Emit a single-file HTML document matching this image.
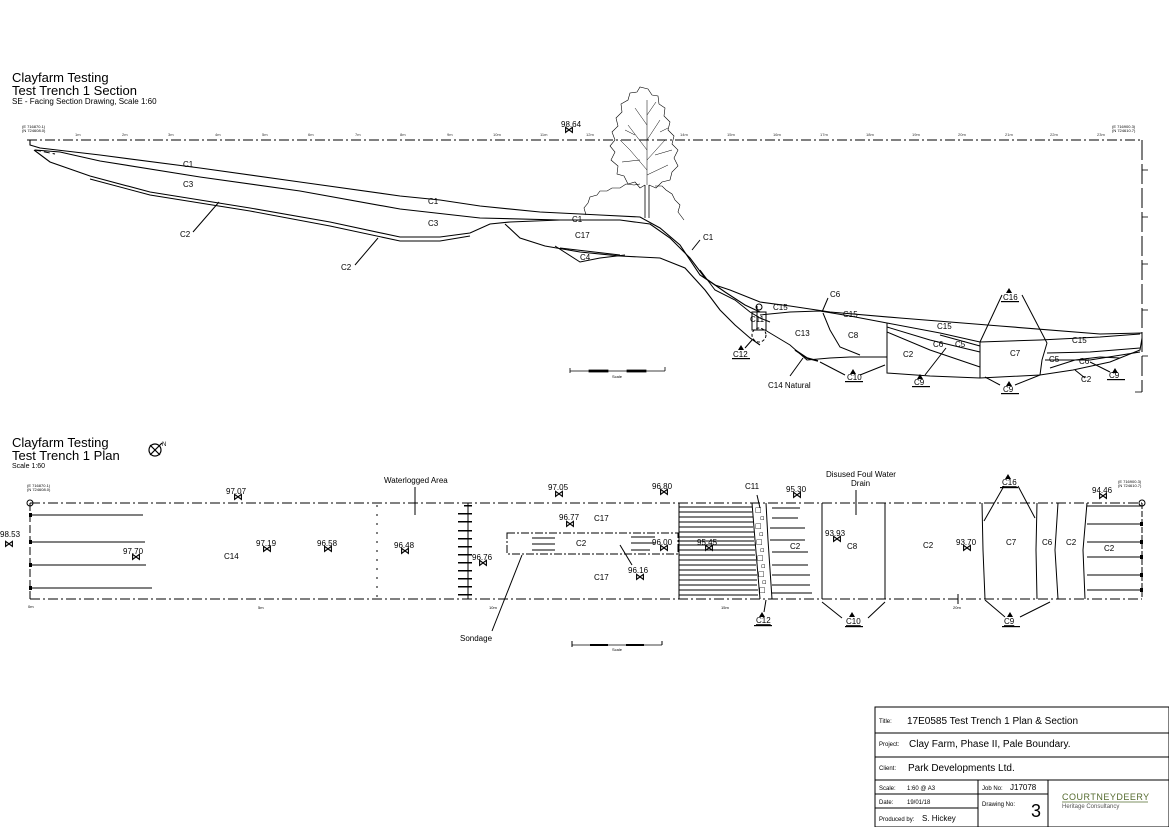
<!DOCTYPE html>
<html><head><meta charset="utf-8"><style>
html,body{margin:0;padding:0;background:#fff;}
svg{display:block;font-family:"Liberation Sans",Arial,sans-serif;}
</style></head><body>
<svg width="1169" height="827" viewBox="0 0 1169 827" xmlns="http://www.w3.org/2000/svg">
<rect width="1169" height="827" fill="#fff"/>
<!-- Section titles -->
<text x="12" y="82" font-size="13">Clayfarm Testing</text>
<text x="12" y="95" font-size="13">Test Trench 1 Section</text>
<text x="12" y="104" font-size="8">SE - Facing Section Drawing, Scale 1:60</text>

<g stroke="#000" fill="none" stroke-width="1">
<!-- datum -->
<line x1="27" y1="140" x2="1142" y2="140" stroke-dasharray="10,3,2,3"/>
<line x1="1142" y1="140" x2="1142" y2="392" stroke-dasharray="20,4"/>
<g stroke-width="0.8">
<line x1="1142" y1="170" x2="1148" y2="170"/><line x1="1142" y1="217" x2="1148" y2="217"/>
<line x1="1142" y1="264" x2="1148" y2="264"/><line x1="1142" y1="310" x2="1148" y2="310"/>
<line x1="1142" y1="356" x2="1148" y2="356"/><line x1="1135" y1="392" x2="1142" y2="392"/>
</g>
<!-- ground / C1 top -->
<polyline stroke-width="1.1" points="30,140 30,145 40,148 100,155 200,168 300,182 400,196 440,200 480,206 540,212 600,215 640,217 660,228 680,245 700,275 715,285 730,290 760,302 790,306 830,312 900,318 1000,326 1100,334 1142,333"/>
<!-- C1/C3 -->
<polyline stroke-width="1.1" points="35,150 60,152 100,161 200,177 300,191 400,209 480,218 560,220 620,220 650,224 670,238 690,258 705,278 725,292 745,305 760,312"/>
<polyline stroke-dasharray="6,3" points="35,150 55,154"/>
<!-- C3/C2 -->
<polyline stroke-width="1.1" points="34,150 50,162 90,176 150,192 250,208 330,222 400,237 440,237 470,233 490,224 510,222 560,220"/>
<polyline points="90,179 150,195 250,211 330,226 400,241 440,241 470,236"/>
<!-- C17 lower -->
<polyline stroke-width="1.1" points="505,224 520,238 545,246 580,252 620,256 660,258 685,268 705,290 720,310 735,325 750,338 760,345"/>
<polyline points="555,246 580,262 600,258 625,255"/>
<polyline points="560,248 620,255"/>
<!-- trench lower lines -->
<polyline points="700,270 715,290 735,300 750,312 760,318 770,322"/>
<polyline points="757,306 757,330"/>
<!-- C15 layers -->
<polyline points="760,315 790,312 820,311 850,316 887,323 940,333 980,342 1040,340 1100,337 1140,334"/>
<polyline points="887,327 930,340 980,352"/>
<polyline points="887,332 930,350 980,367"/>
<polyline points="940,335 980,346"/>
<!-- natural / bottom -->
<polyline points="765,330 790,345 807,360 830,358 850,357 887,357"/>
<polyline stroke-width="1.6" points="795,350 807,358 818,361"/>
<polyline points="887,350 887,373 930,376 980,378 1040,375 1073,370 1110,362 1140,350 1142,338"/>
<line x1="887" y1="323" x2="887" y2="357"/>
<polyline points="823,313 830,330 840,347 860,355"/>
<polyline points="980,342 980,378"/>
<polyline points="1047,343 1042,360 1040,375"/>
<polyline points="1047,353 1090,352 1140,348"/>
<polyline points="1050,368 1075,360 1100,357 1120,358"/>
<polyline points="1045,360 1090,360 1140,352"/>
<!-- C11 / C12 feature -->
<rect x="752" y="312" width="14" height="18"/>
<ellipse cx="759" cy="335" rx="7" ry="7" stroke-dasharray="3,2"/>
<circle cx="759" cy="307" r="3"/>
<!-- leader lines -->
<line x1="193" y1="232" x2="219" y2="202"/>
<line x1="355" y1="265" x2="378" y2="238"/>
<line x1="700" y1="240" x2="692" y2="250"/>
<line x1="828" y1="298" x2="822" y2="312"/>
<line x1="790" y1="376" x2="803" y2="358"/>
<line x1="845" y1="375" x2="820" y2="362"/>
<line x1="860" y1="375" x2="885" y2="365"/>
<line x1="925" y1="375" x2="946" y2="348"/>
<line x1="1002" y1="295" x2="980" y2="342"/>
<line x1="1022" y1="295" x2="1047" y2="343"/>
<line x1="1000" y1="385" x2="985" y2="377"/>
<line x1="1015" y1="385" x2="1040" y2="375"/>
<line x1="1085" y1="378" x2="1075" y2="370"/>
<line x1="1110" y1="372" x2="1090" y2="362"/>
<line x1="745" y1="348" x2="752" y2="340"/>
<!-- tree -->
<path d="M645,218 L645,185 M649,218 L649,185" stroke-width="0.8"/>
<path stroke-width="0.6" d="M645,185 L640,188 L635,182 L628,184 L624,176 L617,174 L618,166 L611,160 L615,152 L610,146 L615,140 L612,132 L618,126 L616,118 L622,112 L621,104 L628,100 L630,93 L637,92 L640,87 L648,89 L652,95 L658,96 L659,104 L665,108 L664,116 L670,122 L668,130 L674,136 L672,144 L678,150 L674,158 L678,166 L672,172 L670,180 L662,182 L656,188 L649,185"/>
<path stroke-width="0.5" d="M647,185 L647,100 M647,170 L630,150 L620,140 M647,160 L665,140 M647,150 L628,125 M647,140 L660,120 M647,125 L635,108 M647,115 L656,102 M647,175 L668,165 M640,160 L622,162 M655,155 L672,150 M635,135 L625,130 M660,132 L668,128"/>
<path stroke-width="0.6" d="M586,215 L584,208 L588,203 L590,197 L597,195 L600,191 L607,191 L612,188 L620,188 L626,184 L634,185 L640,184 M655,186 L662,186 L666,190 L672,194 L675,200 L680,205 L678,212 L684,220"/>
</g>
<!-- section labels -->
<g font-size="8">
<text x="183" y="167">C1</text><text x="183" y="187">C3</text><text x="180" y="237">C2</text>
<text x="428" y="204">C1</text><text x="428" y="226">C3</text><text x="341" y="270">C2</text>
<text x="572" y="222">C1</text><text x="575" y="238">C17</text><text x="580" y="260">C4</text>
<text x="703" y="240">C1</text><text x="773" y="310">C15</text><text x="830" y="297">C6</text>
<text x="843" y="317">C15</text><text x="795" y="336">C13</text><text x="848" y="338">C8</text>
<text x="937" y="329">C15</text><text x="903" y="357">C2</text><text x="933" y="347">C6</text>
<text x="955" y="347">C5</text><text x="1010" y="356">C7</text><text x="1072" y="343">C15</text>
<text x="1049" y="362">C5</text><text x="1079" y="364">C6</text><text x="1081" y="382">C2</text>
<text x="750" y="322">C11</text><text x="768" y="388">C14 Natural</text>
<text x="561" y="127">98.64</text>
</g>
<g font-size="8" text-decoration="underline">
<text x="733" y="357">C12</text><text x="847" y="380">C10</text><text x="914" y="385">C9</text>
<text x="1003" y="300">C16</text><text x="1003" y="392">C9</text><text x="1109" y="378">C9</text>
</g>
<g fill="#000">
<path d="M738,350 l3,-5 l3,5z M850,374 l3,-5 l3,5z M917,379 l3,-5 l3,5z M1006,293 l3,-5 l3,5z M1006,386 l3,-5 l3,5z M1112,373 l3,-5 l3,5z"/>
<rect x="732" y="358" width="18" height="1.2"/><rect x="845" y="381" width="18" height="1.2"/><rect x="912" y="386" width="18" height="1.2"/><rect x="1001" y="301" width="18" height="1.2"/><rect x="1001" y="393" width="18" height="1.2"/><rect x="1107" y="379" width="18" height="1.2"/>
</g>
<!-- section scale bar -->
<g stroke="#000" stroke-width="0.8" fill="none">
<line x1="570" y1="371" x2="665" y2="371"/><line x1="570" y1="368" x2="570" y2="373"/><line x1="665" y1="367" x2="665" y2="371"/>
<rect x="589" y="370" width="19" height="2" fill="#000"/><rect x="627" y="370" width="19" height="2" fill="#000"/>
</g>
<text x="612" y="378" font-size="4">Scale</text>
<g font-size="4"><text x="22" y="128">(E 716870.1)</text><text x="22" y="132">(N 724608.0)</text><text x="1112" y="128">(E 716900.3)</text><text x="1112" y="132">(N 724610.7)</text></g>
<g font-size="4" fill="#333">
<text x="75" y="136">1m</text><text x="122" y="136">2m</text><text x="168" y="136">3m</text><text x="215" y="136">4m</text><text x="262" y="136">5m</text><text x="308" y="136">6m</text><text x="355" y="136">7m</text><text x="400" y="136">8m</text><text x="447" y="136">9m</text><text x="493" y="136">10m</text><text x="540" y="136">11m</text><text x="586" y="136">12m</text><text x="680" y="136">14m</text><text x="727" y="136">15m</text><text x="773" y="136">16m</text><text x="820" y="136">17m</text><text x="866" y="136">18m</text><text x="912" y="136">19m</text><text x="958" y="136">20m</text><text x="1005" y="136">21m</text><text x="1050" y="136">22m</text><text x="1097" y="136">23m</text>
</g>

<!-- PLAN -->
<text x="12" y="447" font-size="13">Clayfarm Testing</text>
<text x="12" y="460" font-size="13">Test Trench 1 Plan</text>
<text x="12" y="468" font-size="7">Scale 1:60</text>
<g stroke="#000" fill="none" stroke-width="1.2"><circle cx="155" cy="450" r="6"/><line x1="150" y1="455" x2="162" y2="443"/><line x1="150" y1="445" x2="160" y2="455"/></g>
<text x="162" y="446" font-size="6">N</text>

<g stroke="#000" fill="none" stroke-width="1">
<line x1="30" y1="503" x2="1142" y2="503" stroke-dasharray="10,3,2,3"/>
<line x1="30" y1="599" x2="1142" y2="599" stroke-dasharray="10,3,2,3"/>
<line x1="30" y1="503" x2="30" y2="599" stroke-dasharray="8,3"/>
<circle cx="30" cy="503" r="3"/><circle cx="1142" cy="503" r="3"/>
<line x1="30" y1="515" x2="143" y2="515"/><line x1="30" y1="542" x2="145" y2="542"/>
<line x1="30" y1="565" x2="146" y2="565"/><line x1="31" y1="588" x2="152" y2="588"/>
<line x1="377" y1="505" x2="377" y2="598" stroke-dasharray="2,7"/>
<line x1="415" y1="487" x2="415" y2="515"/>
<line x1="468" y1="503" x2="468" y2="599"/>
<!-- sondage -->
<rect x="507" y="533" width="171" height="21" stroke-dasharray="8,2,2,2"/>
<line x1="532" y1="538" x2="555" y2="538"/><line x1="532" y1="544" x2="555" y2="544"/><line x1="532" y1="550" x2="555" y2="550"/>
<line x1="631" y1="537" x2="655" y2="537"/><line x1="631" y1="543" x2="655" y2="543"/><line x1="631" y1="550" x2="650" y2="550"/>
<line x1="492" y1="631" x2="522" y2="555"/>
<line x1="620" y1="545" x2="632" y2="565"/>
<!-- hatch block -->
<line x1="679" y1="503" x2="679" y2="599"/>
<line x1="679" y1="507" x2="752" y2="507"/><line x1="679" y1="512" x2="752" y2="512"/><line x1="679" y1="517" x2="753" y2="517"/>
<line x1="679" y1="522" x2="753" y2="522"/><line x1="679" y1="527" x2="753" y2="527"/><line x1="679" y1="532" x2="754" y2="532"/>
<line x1="679" y1="537" x2="754" y2="537"/><line x1="679" y1="541" x2="754" y2="541"/><line x1="679" y1="545" x2="755" y2="545"/>
<line x1="679" y1="550" x2="755" y2="550"/><line x1="679" y1="555" x2="755" y2="555"/><line x1="679" y1="560" x2="756" y2="560"/>
<line x1="679" y1="565" x2="756" y2="565"/><line x1="679" y1="570" x2="756" y2="570"/><line x1="679" y1="575" x2="757" y2="575"/>
<line x1="679" y1="580" x2="757" y2="580"/><line x1="679" y1="585" x2="757" y2="585"/><line x1="679" y1="590" x2="758" y2="590"/>
<line x1="679" y1="595" x2="758" y2="595"/>
<!-- stone column -->
<polyline points="752,503 755,540 760,599"/><polyline points="766,503 768,540 772,599"/>
<line x1="772" y1="508" x2="800" y2="508"/><line x1="772" y1="518" x2="798" y2="518"/><line x1="770" y1="528" x2="805" y2="528"/>
<line x1="770" y1="540" x2="805" y2="540"/><line x1="772" y1="552" x2="808" y2="552"/><line x1="772" y1="565" x2="808" y2="565"/>
<line x1="772" y1="575" x2="810" y2="575"/><line x1="772" y1="585" x2="810" y2="585"/><line x1="772" y1="593" x2="812" y2="593"/>
<line x1="757" y1="495" x2="760" y2="508"/><line x1="766" y1="600" x2="764" y2="612"/>
<!-- C8 drain -->
<line x1="822" y1="503" x2="822" y2="599"/><line x1="885" y1="503" x2="885" y2="599"/>
<line x1="856" y1="490" x2="856" y2="515"/>
<line x1="822" y1="602" x2="842" y2="618"/><line x1="868" y1="618" x2="885" y2="602"/>
<!-- right -->
<polyline points="982,503 983,550 985,599"/><polyline points="1037,503 1036,550 1037,599"/>
<polyline points="1058,503 1055,550 1058,599"/><polyline points="1087,503 1083,550 1085,599"/>
<line x1="1004" y1="486" x2="984" y2="521"/><line x1="1018" y1="486" x2="1035" y2="518"/>
<line x1="985" y1="600" x2="1005" y2="617"/><line x1="1020" y1="617" x2="1050" y2="602"/>
<line x1="1087" y1="506" x2="1142" y2="506"/><line x1="1087" y1="524" x2="1142" y2="524"/><line x1="1087" y1="542" x2="1142" y2="542"/>
<line x1="1087" y1="557" x2="1142" y2="557"/><line x1="1087" y1="575" x2="1142" y2="575"/><line x1="1087" y1="590" x2="1142" y2="590"/>
<line x1="1142" y1="503" x2="1142" y2="599" stroke-dasharray="6,2"/>
<line x1="958" y1="594" x2="958" y2="604"/>
<!-- plan scale bar -->
<line x1="572" y1="645" x2="662" y2="645" stroke-width="0.8"/><line x1="572" y1="641" x2="572" y2="647"/><line x1="662" y1="641" x2="662" y2="645"/>
</g>
<g fill="#000">
<rect x="590" y="644" width="18" height="2"/><rect x="626" y="644" width="18" height="2"/>
<rect x="29" y="513" width="3" height="4"/><rect x="29" y="540" width="3" height="4"/><rect x="29" y="563" width="3" height="4"/><rect x="29" y="586" width="3" height="4"/>
<rect x="1140" y="522" width="3" height="4"/><rect x="1140" y="540" width="3" height="4"/><rect x="1140" y="555" width="3" height="4"/><rect x="1140" y="573" width="3" height="4"/><rect x="1140" y="588" width="3" height="4"/>
<g>
<rect x="464" y="505" width="8" height="1.5"/><rect x="458" y="513" width="14" height="1.5"/><rect x="458" y="521" width="14" height="1.5"/><rect x="458" y="530" width="14" height="1.5"/><rect x="458" y="538" width="14" height="1.5"/><rect x="458" y="546" width="14" height="1.5"/><rect x="458" y="554" width="14" height="1.5"/><rect x="458" y="562" width="14" height="1.5"/><rect x="458" y="570" width="14" height="1.5"/><rect x="458" y="578" width="14" height="1.5"/><rect x="458" y="586" width="14" height="1.5"/><rect x="458" y="594" width="14" height="1.5"/>
</g>
<g font-size="7" font-family="DejaVu Sans">
<text x="755" y="512">□</text><text x="760" y="520">▫</text><text x="755" y="528">□</text><text x="759" y="536">▫</text><text x="756" y="544">□</text><text x="760" y="552">▫</text><text x="757" y="560">□</text><text x="761" y="568">▫</text><text x="758" y="576">□</text><text x="762" y="584">▫</text><text x="759" y="592">□</text>
</g>
</g>
<g font-size="8">
<text x="384" y="483">Waterlogged Area</text>
<text x="226" y="494">97.07</text><text x="0" y="537">98.53</text><text x="123" y="554">97.70</text>
<text x="224" y="559">C14</text><text x="256" y="546">97.19</text><text x="317" y="546">96.58</text>
<text x="394" y="548">96.48</text><text x="472" y="560">96.76</text><text x="548" y="490">97.05</text>
<text x="559" y="520">96.77</text><text x="594" y="521">C17</text><text x="576" y="546">C2</text>
<text x="594" y="580">C17</text><text x="652" y="489">96.80</text><text x="652" y="545">96.00</text>
<text x="697" y="545">95.45</text><text x="628" y="573">96.16</text><text x="745" y="489">C11</text>
<text x="786" y="492">95.30</text><text x="790" y="549">C2</text><text x="826" y="477">Disused Foul Water</text>
<text x="851" y="486">Drain</text><text x="825" y="536">93.93</text><text x="847" y="549">C8</text>
<text x="923" y="548">C2</text><text x="956" y="545">93.70</text><text x="1006" y="545">C7</text>
<text x="1042" y="545">C6</text><text x="1066" y="545">C2</text><text x="1104" y="551">C2</text>
<text x="1092" y="493">94.46</text><text x="460" y="641">Sondage</text>
</g>
<g font-size="8" text-decoration="underline">
<text x="756" y="623">C12</text><text x="846" y="624">C10</text><text x="1002" y="485">C16</text><text x="1004" y="624">C9</text>
</g>
<g fill="#000"><path d="M759,617 l3,-5 l3,5z M849,617 l3,-5 l3,5z M1005,479 l3,-5 l3,5z M1007,617 l3,-5 l3,5z"/>
<rect x="754" y="625" width="18" height="1.2"/><rect x="845" y="626" width="18" height="1.2"/><rect x="1000" y="487" width="18" height="1.2"/><rect x="1002" y="626" width="18" height="1.2"/></g>
<g font-size="4"><text x="27" y="487">(E 716870.1)</text><text x="27" y="491">(N 724608.0)</text><text x="1118" y="483">(E 716900.3)</text><text x="1118" y="487">(N 724610.7)</text>
<text x="28" y="608">0m</text><text x="258" y="609">5m</text><text x="489" y="609">10m</text><text x="721" y="609">15m</text><text x="953" y="609">20m</text><text x="612" y="651">Scale</text></g>
<!-- markers -->
<g font-size="10" font-weight="bold" font-family="DejaVu Sans">
<text x="564" y="133">⋈</text><text x="233" y="500">⋈</text><text x="4" y="547">⋈</text><text x="131" y="560">⋈</text><text x="262" y="552">⋈</text><text x="323" y="552">⋈</text><text x="400" y="554">⋈</text><text x="478" y="566">⋈</text><text x="554" y="497">⋈</text><text x="565" y="527">⋈</text><text x="659" y="495">⋈</text><text x="659" y="551">⋈</text><text x="704" y="551">⋈</text><text x="635" y="580">⋈</text><text x="792" y="498">⋈</text><text x="832" y="542">⋈</text><text x="962" y="551">⋈</text><text x="1098" y="499">⋈</text>
</g>

<!-- title block -->
<g stroke="#000" fill="none" stroke-width="1">
<rect x="875" y="707" width="294" height="120"/>
<line x1="875" y1="733" x2="1169" y2="733"/><line x1="875" y1="757" x2="1169" y2="757"/><line x1="875" y1="780" x2="1169" y2="780"/>
<line x1="875" y1="794" x2="1048" y2="794"/><line x1="875" y1="808" x2="978" y2="808"/>
<line x1="978" y1="780" x2="978" y2="827"/><line x1="1048" y1="780" x2="1048" y2="827"/>
</g>
<text x="879" y="723" font-size="6">Title:</text><text x="907" y="724" font-size="10">17E0585 Test Trench 1 Plan &amp; Section</text>
<text x="879" y="746" font-size="6">Project:</text><text x="909" y="747" font-size="10">Clay Farm, Phase II, Pale Boundary.</text>
<text x="879" y="770" font-size="6">Client:</text><text x="908" y="771" font-size="10">Park Developments Ltd.</text>
<text x="879" y="790" font-size="6">Scale:</text><text x="907" y="790" font-size="6">1:60 @ A3</text>
<text x="879" y="804" font-size="6">Date:</text><text x="907" y="804" font-size="6">19/01/18</text>
<text x="879" y="821" font-size="6">Produced by:</text><text x="922" y="821" font-size="8">S. Hickey</text>
<text x="982" y="790" font-size="6">Job No:</text><text x="1010" y="790" font-size="8">J17078</text>
<text x="982" y="806" font-size="6">Drawing No:</text><text x="1031" y="817" font-size="18">3</text>
<text x="1062" y="800" font-size="9" fill="#556b2f" letter-spacing="0.5">COURTNEYDEERY</text>
<text x="1062" y="808" font-size="6" fill="#555">Heritage Consultancy</text>
<line x1="1062" y1="802" x2="1148" y2="802" stroke="#556b2f" stroke-width="0.8"/>
</svg>
</body></html>
